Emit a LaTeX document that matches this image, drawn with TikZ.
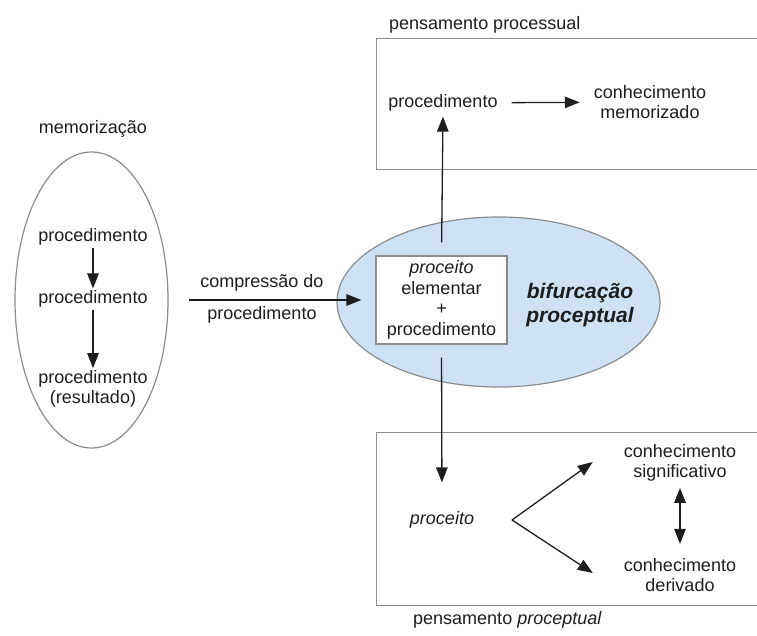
\documentclass[tikz,border=0pt]{standalone}
\usepackage{fontspec}
\setmainfont{Liberation Sans}
\usetikzlibrary{positioning, arrows.meta, shapes.geometric}

\definecolor{bubble}{RGB}{207,226,243}
\definecolor{frameline}{RGB}{140,140,140}
\definecolor{ink}{RGB}{30,30,30}

\begin{document}
\begin{tikzpicture}[
		x=1pt, y=1pt,
		font=\fontsize{18}{20.5}\selectfont,
		>={Triangle[length=15pt, width=11.5pt]},
		every node/.style={text=ink},
		txt/.style={inner sep=2pt, align=center},
		frame/.style={draw=frameline, line width=1.2pt},
		flow/.style={->, line width=1.3pt, ink}
		]
		\useasboundingbox (0,0) rectangle (757,635);
		
		% ==========================================
		% 1. MEMORIZATION
		% ==========================================
		
		\node[frame, ellipse, minimum width=153, minimum height=296] (memo) at (91.5,335) {};
		\node[txt] (memolabel) at (93,506) {memorização};
		\node[txt] (p1) at (93,398) {procedimento};
		\node[txt] (p2) at (93,336) {procedimento};
		\node[txt] (p3) at (93,246) {procedimento\\(resultado)};
		\draw[flow] (p1) -- (p2);
		\draw[flow] (p2) -- (p3);
		
		% ==========================================
		% 2. PROCEPTUAL BIFURCATION
		% ==========================================
		
		\node[frame, ellipse, fill=bubble, minimum width=323, minimum height=170] (bif) at (498.5,333) {};
		\node[frame, fill=white, minimum width=131, minimum height=88, align=center, inner sep=0pt] (core) at (441.5,335)
			{\textit{proceito}\\elementar\\+\\procedimento};
		\node[txt, font=\fontsize{21}{24}\selectfont\bfseries\itshape] (biflabel) at (580,330) {bifurcação\\proceptual};
		
		% compression arrow
		\draw[flow, shorten <=20pt, shorten >=14pt] (memo.east) -- (core.west);
		\node[txt] (comp1) at (262,352) {compressão do};
		\node[txt] (comp2) at (262,320) {procedimento};
		
		% ==========================================
		% 3. PROCESS THINKING
		% ==========================================
		
		\node[frame, minimum width=404, minimum height=131, anchor=north west] (procbox) at (376,597) {};
		\node[txt, anchor=west] (procname) at (387,610) {pensamento processual};
		\node[txt] (tproc) at (443,532) {procedimento};
		\node[txt] (memor) at (650,533) {conhecimento\\memorizado};
		\draw[flow, shorten <=12pt, shorten >=12pt] (tproc) -- (memor);
		\draw[flow, shorten <=13pt, shorten >=3pt] (core.north) -- (tproc.south);
		
		% ==========================================
		% 4. PROCEPTUAL THINKING
		% ==========================================
		
		\node[frame, minimum width=404, minimum height=173, anchor=north west] (procepbox) at (376,203) {};
		\node[txt, anchor=west] (procepname) at (411,15) {pensamento \textit{proceptual}};
		\node[txt] (procept) at (442,115) {\textit{proceito}};
		\node[txt] (signif) at (680,172) {conhecimento\\significativo};
		\node[txt] (deriv) at (680,60) {conhecimento\\derivado};
		\coordinate (fork) at (512,115);
		
		\draw[flow, shorten <=13pt, shorten >=27pt] (core.south) -- (procept.north);
		\draw[flow] (fork) -- ([xshift=-29pt, yshift=1pt]signif.west);
		\draw[flow] (fork) -- ([xshift=-29pt, yshift=2pt]deriv.west);
		\draw[<->, line width=1.3pt, ink, shorten <=4pt, shorten >=12pt] (signif.south) -- (deriv.north);
		
	\end{tikzpicture}
\end{document}
